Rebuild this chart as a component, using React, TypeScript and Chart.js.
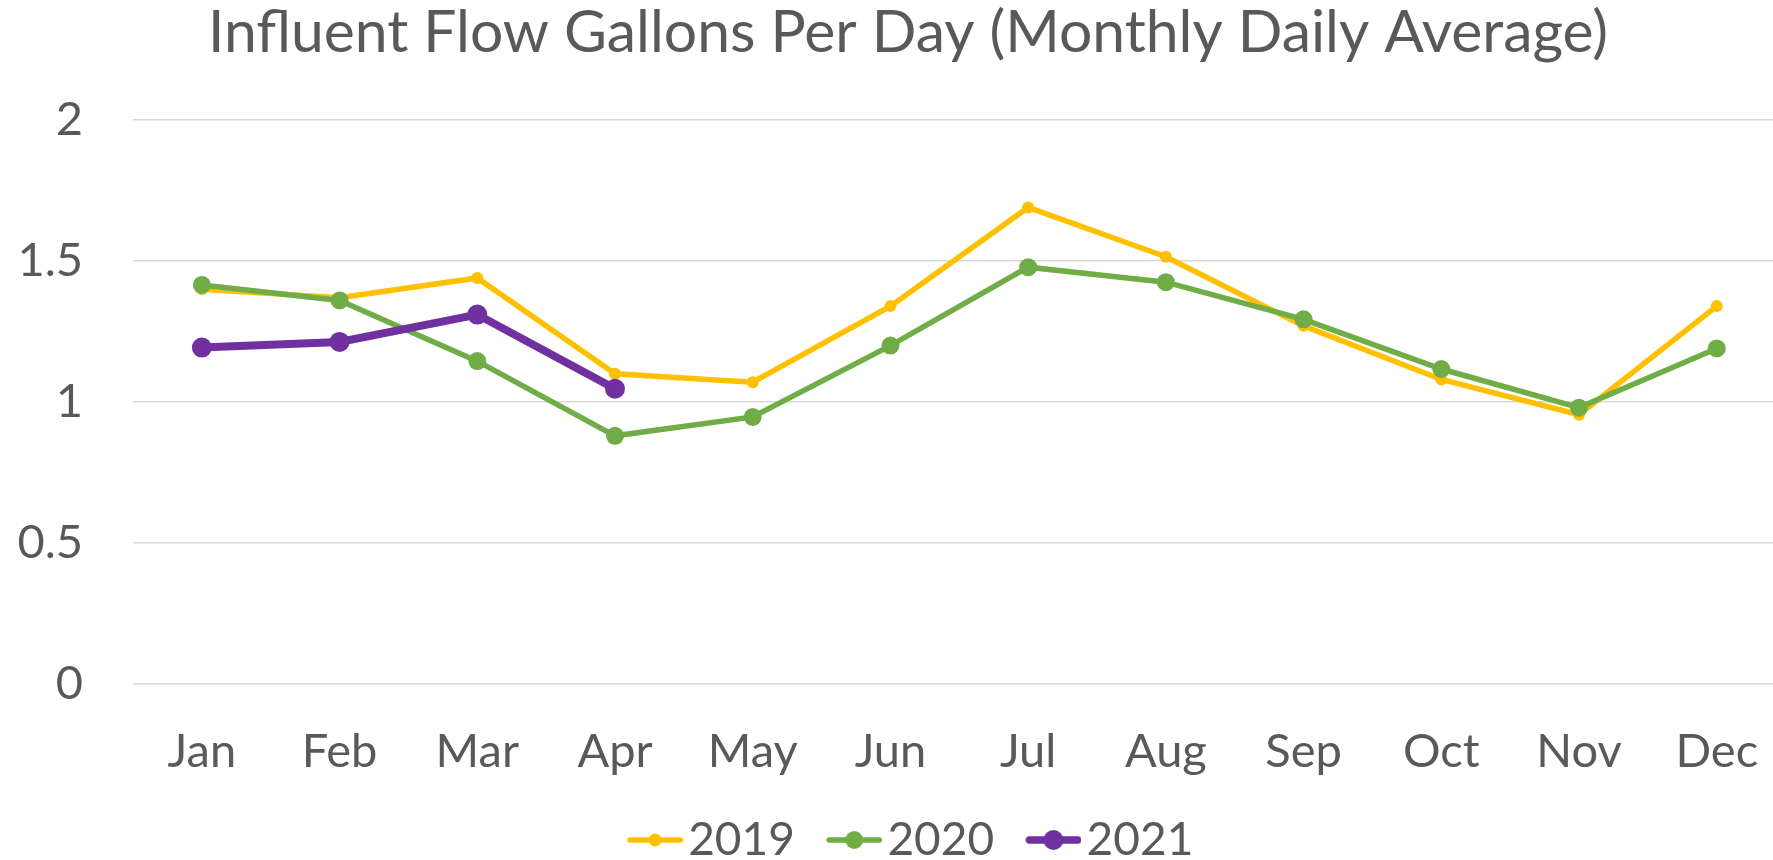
import React, { useEffect, useRef } from "react";
import { Chart, registerables } from "chart.js";

Chart.register(...registerables);

const months = ["Jan", "Feb", "Mar", "Apr", "May", "Jun", "Jul", "Aug", "Sep", "Oct", "Nov", "Dec"];
const series2019 = [1.40, 1.37, 1.44, 1.10, 1.07, 1.34, 1.69, 1.515, 1.27, 1.08, 0.955, 1.34];
const series2020 = [1.415, 1.36, 1.145, 0.88, 0.947, 1.20, 1.478, 1.425, 1.293, 1.117, 0.98, 1.19];
const series2021 = [1.193, 1.213, 1.31, 1.047];
const seriesNames = ["2019", "2020", "2021"];
const yTicks = [0, 0.5, 1, 1.5, 2];
const titleText = "Influent Flow Gallons Per Day (Monthly Daily Average)";

const colors = ["#FFC000", "#70AD47", "#7030A0"];
const lineWidths = [5.5, 5.5, 8];
const pointRadii = [6, 9, 10];
const legendLineWidths = [5.5, 5.5, 7.5];
const legendRadii = [6.5, 9, 10];

const FONT = "Lato, 'Open Sans', sans-serif";
const TEXT = "#595959";

function makeLegendIcon(color: string, lw: number, r: number) {
  const c = document.createElement("canvas");
  c.width = 78;
  c.height = 24;
  const ctx = c.getContext("2d")!;
  ctx.strokeStyle = color;
  ctx.lineWidth = lw;
  ctx.lineCap = "round";
  ctx.beginPath();
  ctx.moveTo(22.25 + lw / 2, 12);
  ctx.lineTo(78 - lw / 2, 12);
  ctx.stroke();
  ctx.fillStyle = color;
  ctx.beginPath();
  ctx.arc(50.1, 12, r, 0, Math.PI * 2);
  ctx.fill();
  return c;
}

export default function App() {
  const ref = useRef<HTMLCanvasElement | null>(null);

  useEffect(() => {
    if (!ref.current) return;
    const allSeries = [series2019, series2020, series2021];
    const icons = allSeries.map((_, i) => makeLegendIcon(colors[i], legendLineWidths[i], legendRadii[i]));
    const chart = new Chart(ref.current, {
      type: "line",
      data: {
        labels: months,
        datasets: allSeries.map((d, i) => ({
          label: seriesNames[i],
          data: d,
          borderColor: colors[i],
          backgroundColor: colors[i],
          borderWidth: lineWidths[i],
          pointRadius: pointRadii[i],
          pointBorderWidth: 0,
          pointBackgroundColor: colors[i],
          pointHoverRadius: pointRadii[i],
          tension: 0,
          fill: false,
          order: 3 - i,
          yAxisID: "y",
        })),
      },
      options: {
        animation: false,
        responsive: false,
        maintainAspectRatio: false,
        layout: { padding: 0 },
        plugins: {
          title: {
            display: true,
            text: titleText,
            color: TEXT,
            font: { family: FONT, size: 58.8, weight: "normal" },
            padding: { top: -2.5, bottom: 51.94 },
          },
          legend: {
            display: true,
            position: "bottom",
            labels: {
              usePointStyle: true,
              pointStyleWidth: 42.5,
              padding: 27,
              color: TEXT,
              font: { family: FONT, size: 46 },
              generateLabels: (ch: any) =>
                ch.data.datasets.map((ds: any, i: number) => ({
                  text: ds.label,
                  pointStyle: icons[i],
                  fillStyle: colors[i],
                  strokeStyle: colors[i],
                  lineWidth: 0,
                  hidden: false,
                  datasetIndex: i,
                  fontColor: TEXT,
                })),
            },
          },
          tooltip: { enabled: false },
        },
        scales: {
          x: {
            type: "category",
            offset: true,
            grid: { display: false, drawTicks: false },
            border: { display: false },
            ticks: {
              color: TEXT,
              font: { family: FONT, size: 47 },
              padding: 40,
              maxRotation: 0,
              autoSkip: false,
            },
            afterFit: (s: any) => {
              s.height = 106;
            },
          },
          y: {
            position: "left",
            min: 0,
            max: 2,
            afterBuildTicks: (s: any) => {
              s.ticks = yTicks.map((v) => ({ value: v }));
            },
            grid: { color: "#D9D9D9", lineWidth: 1.5, drawTicks: false },
            border: { display: false },
            ticks: {
              color: TEXT,
              font: { family: FONT, size: 47 },
              padding: 50,
              callback: (v: any) => String(Number(v)),
            },
            afterFit: (s: any) => {
              s.width = 133;
            },
          },
          y2: {
            position: "right",
            display: true,
            min: 0,
            max: 2,
            grid: { display: false, drawTicks: false },
            border: { display: false },
            ticks: { display: false },
            afterFit: (s: any) => {
              s.width = 30.4;
            },
          },
        },
      } as any,
    });
    return () => chart.destroy();
  }, []);

  return (
    <div
      style={{
        position: "fixed",
        left: 0,
        top: 0,
        width: 1773,
        height: 860,
        overflow: "hidden",
        background: "#fff",
      }}
    >
      <canvas ref={ref} width={1816} height={873} style={{ width: 1816, height: 873, display: "block" }} />
    </div>
  );
}
